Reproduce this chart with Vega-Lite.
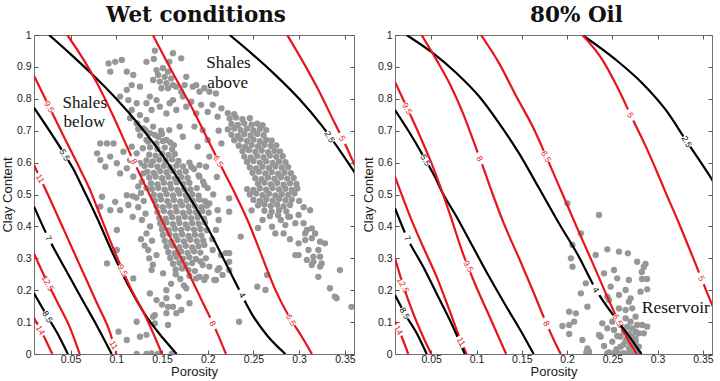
{
"$schema":"https://vega.github.io/schema/vega-lite/v6.json",
"padding":{"left":0,"top":4,"right":0,"bottom":0},
"spacing":5,
"config":{"view":{"stroke":"#707070","strokeWidth":1},
"axis":{"labelFont":"Liberation Sans","labelFontSize":10.5,"labelColor":"#1a1a1a","titleFont":"Liberation Sans","titleFontSize":13,"titleFontWeight":"normal","titleColor":"#1a1a1a","grid":false,"domain":false,"tickColor":"#555","tickSize":-4}},
"datasets":{
"wetLines":[
{"id":"b55","col":"black","p":0.010,"c":0.772},{"id":"b55","col":"black","p":0.0427,"c":0.629},{"id":"b55","col":"black","p":0.0536,"c":0.577},{"id":"b55","col":"black","p":0.0627,"c":0.524},{"id":"b55","col":"black","p":0.0789,"c":0.427},{"id":"b55","col":"black","p":0.0969,"c":0.311},{"id":"b55","col":"black","p":0.115,"c":0.205},{"id":"b55","col":"black","p":0.133,"c":0.117},{"id":"b55","col":"black","p":0.151,"c":0.05},{"id":"b55","col":"black","p":0.166,"c":0.0},
{"id":"b4","col":"black","p":0.0265,"c":1.0},{"id":"b4","col":"black","p":0.05,"c":0.94},{"id":"b4","col":"black","p":0.075,"c":0.873},{"id":"b4","col":"black","p":0.10,"c":0.80},{"id":"b4","col":"black","p":0.125,"c":0.718},{"id":"b4","col":"black","p":0.15,"c":0.625},{"id":"b4","col":"black","p":0.175,"c":0.515},{"id":"b4","col":"black","p":0.20,"c":0.395},{"id":"b4","col":"black","p":0.225,"c":0.255},{"id":"b4","col":"black","p":0.25,"c":0.117},{"id":"b4","col":"black","p":0.265,"c":0.058},{"id":"b4","col":"black","p":0.285,"c":0.0},
{"id":"b25","col":"black","p":0.224,"c":1.0},{"id":"b25","col":"black","p":0.25,"c":0.937},{"id":"b25","col":"black","p":0.275,"c":0.872},{"id":"b25","col":"black","p":0.30,"c":0.80},{"id":"b25","col":"black","p":0.325,"c":0.715},{"id":"b25","col":"black","p":0.35,"c":0.615},{"id":"b25","col":"black","p":0.365,"c":0.55},
{"id":"b7","col":"black","p":0.01,"c":0.462},{"id":"b7","col":"black","p":0.0247,"c":0.37},{"id":"b7","col":"black","p":0.0427,"c":0.274},{"id":"b7","col":"black","p":0.0608,"c":0.18},{"id":"b7","col":"black","p":0.0789,"c":0.088},{"id":"b7","col":"black","p":0.095,"c":0.0},
{"id":"b85","col":"black","p":0.01,"c":0.19},{"id":"b85","col":"black","p":0.0247,"c":0.117},{"id":"b85","col":"black","p":0.0356,"c":0.065},{"id":"b85","col":"black","p":0.047,"c":0.0},
{"id":"r14","col":"red","p":0.01,"c":0.113},{"id":"r14","col":"red","p":0.021,"c":0.054},{"id":"r14","col":"red","p":0.03,"c":0.0},
{"id":"r125","col":"red","p":0.01,"c":0.315},{"id":"r125","col":"red","p":0.022,"c":0.24},{"id":"r125","col":"red","p":0.036,"c":0.16},{"id":"r125","col":"red","p":0.049,"c":0.085},{"id":"r125","col":"red","p":0.06,"c":0.0},
{"id":"r11","col":"red","p":0.01,"c":0.592},{"id":"r11","col":"red","p":0.0229,"c":0.514},{"id":"r11","col":"red","p":0.0427,"c":0.389},{"id":"r11","col":"red","p":0.0608,"c":0.274},{"id":"r11","col":"red","p":0.0789,"c":0.159},{"id":"r11","col":"red","p":0.0934,"c":0.065},{"id":"r11","col":"red","p":0.1,"c":0.0},
{"id":"r95","col":"red","p":0.01,"c":0.872},{"id":"r95","col":"red","p":0.0247,"c":0.786},{"id":"r95","col":"red","p":0.0427,"c":0.681},{"id":"r95","col":"red","p":0.0608,"c":0.577},{"id":"r95","col":"red","p":0.072,"c":0.51},{"id":"r95","col":"red","p":0.0789,"c":0.46},{"id":"r95","col":"red","p":0.0969,"c":0.33},{"id":"r95","col":"red","p":0.115,"c":0.211},{"id":"r95","col":"red","p":0.133,"c":0.112},{"id":"r95","col":"red","p":0.15,"c":0.0},
{"id":"r8","col":"red","p":0.0464,"c":1.0},{"id":"r8","col":"red","p":0.0644,"c":0.922},{"id":"r8","col":"red","p":0.079,"c":0.849},{"id":"r8","col":"red","p":0.097,"c":0.744},{"id":"r8","col":"red","p":0.115,"c":0.629},{"id":"r8","col":"red","p":0.1355,"c":0.505},{"id":"r8","col":"red","p":0.155,"c":0.389},{"id":"r8","col":"red","p":0.176,"c":0.272},{"id":"r8","col":"red","p":0.195,"c":0.159},{"id":"r8","col":"red","p":0.209,"c":0.075},{"id":"r8","col":"red","p":0.22,"c":0.0},
{"id":"r65","col":"red","p":0.14,"c":1.0},{"id":"r65","col":"red","p":0.162,"c":0.88},{"id":"r65","col":"red","p":0.184,"c":0.765},{"id":"r65","col":"red","p":0.203,"c":0.655},{"id":"r65","col":"red","p":0.218,"c":0.57},{"id":"r65","col":"red","p":0.232,"c":0.49},{"id":"r65","col":"red","p":0.245,"c":0.41},{"id":"r65","col":"red","p":0.258,"c":0.316},{"id":"r65","col":"red","p":0.274,"c":0.201},{"id":"r65","col":"red","p":0.289,"c":0.117},{"id":"r65","col":"red","p":0.303,"c":0.054},{"id":"r65","col":"red","p":0.314,"c":0.0},
{"id":"r5","col":"red","p":0.287,"c":1.0},{"id":"r5","col":"red","p":0.303,"c":0.922},{"id":"r5","col":"red","p":0.321,"c":0.828},{"id":"r5","col":"red","p":0.339,"c":0.723},{"id":"r5","col":"red","p":0.35,"c":0.66},{"id":"r5","col":"red","p":0.359,"c":0.603},{"id":"r5","col":"red","p":0.37,"c":0.53}
],
"oilLines":[
{"id":"b25","col":"black","p":0.217,"c":1.0},{"id":"b25","col":"black","p":0.254,"c":0.922},{"id":"b25","col":"black","p":0.283,"c":0.849},{"id":"b25","col":"black","p":0.309,"c":0.765},{"id":"b25","col":"black","p":0.331,"c":0.671},{"id":"b25","col":"black","p":0.358,"c":0.556},{"id":"b25","col":"black","p":0.37,"c":0.5},
{"id":"r5","col":"red","p":0.217,"c":1.0},{"id":"r5","col":"red","p":0.239,"c":0.922},{"id":"r5","col":"red","p":0.257,"c":0.828},{"id":"r5","col":"red","p":0.271,"c":0.744},{"id":"r5","col":"red","p":0.287,"c":0.65},{"id":"r5","col":"red","p":0.3,"c":0.566},{"id":"r5","col":"red","p":0.309,"c":0.505},{"id":"r5","col":"red","p":0.3235,"c":0.41},{"id":"r5","col":"red","p":0.3386,"c":0.305},{"id":"r5","col":"red","p":0.358,"c":0.169},{"id":"r5","col":"red","p":0.37,"c":0.09},
{"id":"r65","col":"red","p":0.105,"c":1.0},{"id":"r65","col":"red","p":0.125,"c":0.911},{"id":"r65","col":"red","p":0.144,"c":0.807},{"id":"r65","col":"red","p":0.162,"c":0.713},{"id":"r65","col":"red","p":0.177,"c":0.619},{"id":"r65","col":"red","p":0.186,"c":0.56},{"id":"r65","col":"red","p":0.193,"c":0.514},{"id":"r65","col":"red","p":0.212,"c":0.389},{"id":"r65","col":"red","p":0.23,"c":0.274},{"id":"r65","col":"red","p":0.246,"c":0.169},{"id":"r65","col":"red","p":0.256,"c":0.107},{"id":"r65","col":"red","p":0.264,"c":0.062},{"id":"r65","col":"red","p":0.277,"c":0.0},
{"id":"b4","col":"black","p":0.0228,"c":1.0},{"id":"b4","col":"black","p":0.052,"c":0.943},{"id":"b4","col":"black","p":0.078,"c":0.88},{"id":"b4","col":"black","p":0.103,"c":0.807},{"id":"b4","col":"black","p":0.125,"c":0.723},{"id":"b4","col":"black","p":0.147,"c":0.629},{"id":"b4","col":"black","p":0.168,"c":0.525},{"id":"b4","col":"black","p":0.191,"c":0.41},{"id":"b4","col":"black","p":0.213,"c":0.305},{"id":"b4","col":"black","p":0.232,"c":0.201},{"id":"b4","col":"black","p":0.254,"c":0.11},{"id":"b4","col":"black","p":0.27,"c":0.05},{"id":"b4","col":"black","p":0.282,"c":0.0},
{"id":"r8","col":"red","p":0.0393,"c":1.0},{"id":"r8","col":"red","p":0.0558,"c":0.922},{"id":"r8","col":"red","p":0.0704,"c":0.847},{"id":"r8","col":"red","p":0.085,"c":0.755},{"id":"r8","col":"red","p":0.097,"c":0.665},{"id":"r8","col":"red","p":0.108,"c":0.58},{"id":"r8","col":"red","p":0.118,"c":0.5},{"id":"r8","col":"red","p":0.13,"c":0.41},{"id":"r8","col":"red","p":0.147,"c":0.3},{"id":"r8","col":"red","p":0.162,"c":0.2},{"id":"r8","col":"red","p":0.175,"c":0.11},{"id":"r8","col":"red","p":0.186,"c":0.04},{"id":"r8","col":"red","p":0.193,"c":0.0},
{"id":"b55","col":"black","p":0.01,"c":0.765},{"id":"b55","col":"black","p":0.0265,"c":0.692},{"id":"b55","col":"black","p":0.041,"c":0.622},{"id":"b55","col":"black","p":0.055,"c":0.55},{"id":"b55","col":"black","p":0.0613,"c":0.512},{"id":"b55","col":"black","p":0.078,"c":0.43},{"id":"b55","col":"black","p":0.096,"c":0.336},{"id":"b55","col":"black","p":0.114,"c":0.242},{"id":"b55","col":"black","p":0.133,"c":0.148},{"id":"b55","col":"black","p":0.151,"c":0.062},{"id":"b55","col":"black","p":0.163,"c":0.0},
{"id":"r95","col":"red","p":0.01,"c":0.853},{"id":"r95","col":"red","p":0.0228,"c":0.775},{"id":"r95","col":"red","p":0.038,"c":0.68},{"id":"r95","col":"red","p":0.05,"c":0.6},{"id":"r95","col":"red","p":0.06,"c":0.525},{"id":"r95","col":"red","p":0.0704,"c":0.44},{"id":"r95","col":"red","p":0.085,"c":0.315},{"id":"r95","col":"red","p":0.0998,"c":0.21},{"id":"r95","col":"red","p":0.114,"c":0.12},{"id":"r95","col":"red","p":0.1327,"c":0.0},
{"id":"r11","col":"red","p":0.01,"c":0.556},{"id":"r11","col":"red","p":0.0155,"c":0.514},{"id":"r11","col":"red","p":0.0265,"c":0.432},{"id":"r11","col":"red","p":0.041,"c":0.336},{"id":"r11","col":"red","p":0.056,"c":0.242},{"id":"r11","col":"red","p":0.07,"c":0.138},{"id":"r11","col":"red","p":0.081,"c":0.054},{"id":"r11","col":"red","p":0.089,"c":0.0},
{"id":"r125","col":"red","p":0.01,"c":0.3},{"id":"r125","col":"red","p":0.019,"c":0.215},{"id":"r125","col":"red","p":0.03,"c":0.128},{"id":"r125","col":"red","p":0.041,"c":0.054},{"id":"r125","col":"red","p":0.05,"c":0.0},
{"id":"b7","col":"black","p":0.01,"c":0.457},{"id":"b7","col":"black","p":0.0228,"c":0.368},{"id":"b7","col":"black","p":0.041,"c":0.274},{"id":"b7","col":"black","p":0.0595,"c":0.169},{"id":"b7","col":"black","p":0.074,"c":0.0856},{"id":"b7","col":"black","p":0.087,"c":0.0},
{"id":"b85","col":"black","p":0.01,"c":0.185},{"id":"b85","col":"black","p":0.0228,"c":0.117},{"id":"b85","col":"black","p":0.034,"c":0.065},{"id":"b85","col":"black","p":0.045,"c":0.0},
{"id":"r14","col":"red","p":0.01,"c":0.101},{"id":"r14","col":"red","p":0.0174,"c":0.054},{"id":"r14","col":"red","p":0.0246,"c":0.0}
],
"wetLab":[
{"t":"9.5","col":"red","p":0.0266,"c":0.775},{"t":"9.5","col":"red","p":0.1071,"c":0.263},{"t":"5.5","col":"black","p":0.0437,"c":0.624},{"t":"11","col":"red","p":0.0169,"c":0.55},{"t":"11","col":"red","p":0.0972,"c":0.028},{"t":"7","col":"black","p":0.026,"c":0.363},{"t":"12.5","col":"red","p":0.0252,"c":0.222},{"t":"8.5","col":"black","p":0.0247,"c":0.117},{"t":"14","col":"red","p":0.0171,"c":0.075},{"t":"8","col":"red","p":0.1193,"c":0.603},{"t":"8","col":"red","p":0.2055,"c":0.096},{"t":"6.5","col":"red","p":0.2118,"c":0.605},{"t":"6.5","col":"red","p":0.2912,"c":0.107},{"t":"4","col":"black","p":0.2377,"c":0.185},{"t":"2.5","col":"black","p":0.3335,"c":0.681},{"t":"5","col":"red","p":0.3472,"c":0.676}
],
"oilLab":[
{"t":"9.5","col":"red","p":0.0235,"c":0.77},{"t":"9.5","col":"red","p":0.0912,"c":0.275},{"t":"5.5","col":"black","p":0.0437,"c":0.608},{"t":"8","col":"red","p":0.1037,"c":0.613},{"t":"8","col":"red","p":0.1772,"c":0.096},{"t":"6.5","col":"red","p":0.177,"c":0.619},{"t":"6.5","col":"red","p":0.256,"c":0.107},{"t":"5","col":"red","p":0.27,"c":0.749},{"t":"5","col":"red","p":0.3483,"c":0.237},{"t":"2.5","col":"black","p":0.3322,"c":0.666},{"t":"4","col":"black","p":0.232,"c":0.201},{"t":"11","col":"red","p":0.0832,"c":0.039},{"t":"7","col":"black","p":0.0238,"c":0.363},{"t":"12.5","col":"red","p":0.019,"c":0.216},{"t":"8.5","col":"black","p":0.0207,"c":0.128},{"t":"14","col":"red","p":0.0141,"c":0.075}
],
"wetNote":[{"t":"Shales","p":0.1985,"c":0.8956},{"t":"above","p":0.1996,"c":0.833},{"t":"Shales","p":0.0413,"c":0.77},{"t":"below","p":0.0424,"c":0.7125}],
"oilNote":[{"t":"Reservoir","p":0.2825,"c":0.1275}],
"wetPts":[
{"p":0.1422,"c":0.951},{"p":0.141,"c":0.925},{"p":0.162,"c":0.943},{"p":0.171,"c":0.927},{"p":0.158,"c":0.916},{"p":0.0915,"c":0.911},{"p":0.0988,"c":0.916},{"p":0.106,"c":0.922},{"p":0.133,"c":0.916},{"p":0.0934,"c":0.885},{"p":0.1115,"c":0.885},{"p":0.1186,"c":0.875},{"p":0.1169,"c":0.843},{"p":0.1259,"c":0.838},
{"p":0.144,"c":0.89},{"p":0.151,"c":0.896},{"p":0.1566,"c":0.885},{"p":0.1457,"c":0.875},{"p":0.153,"c":0.869},{"p":0.16,"c":0.864},{"p":0.1476,"c":0.854},{"p":0.1548,"c":0.849},{"p":0.162,"c":0.843},{"p":0.1494,"c":0.833},{"p":0.1566,"c":0.833},{"p":0.1657,"c":0.838},{"p":0.1403,"c":0.859},{"p":0.171,"c":0.822},{"p":0.1765,"c":0.869},{"p":0.1747,"c":0.843},{"p":0.1837,"c":0.838},{"p":0.191,"c":0.822},{"p":0.1728,"c":0.807},{"p":0.162,"c":0.796},{"p":0.1765,"c":0.775},{"p":0.1657,"c":0.765},{"p":0.1584,"c":0.786},{"p":0.1367,"c":0.807},{"p":0.144,"c":0.796},{"p":0.133,"c":0.786},{"p":0.1476,"c":0.775},{"p":0.1386,"c":0.765},{"p":0.1548,"c":0.754},{"p":0.1115,"c":0.828},{"p":0.1042,"c":0.807},{"p":0.1132,"c":0.796},{"p":0.1223,"c":0.786},{"p":0.1169,"c":0.765},{"p":0.1259,"c":0.749},{"p":0.115,"c":0.739},{"p":0.1223,"c":0.723},{"p":0.133,"c":0.734},{"p":0.1295,"c":0.707},{"p":0.1403,"c":0.713},{"p":0.1367,"c":0.692},{"p":0.1457,"c":0.681},{"p":0.133,"c":0.671},{"p":0.144,"c":0.66},{"p":0.1548,"c":0.671},
{"p":0.0825,"c":0.66},{"p":0.0898,"c":0.66},{"p":0.097,"c":0.66},{"p":0.079,"c":0.629},{"p":0.0934,"c":0.619},{"p":0.0825,"c":0.608},{"p":0.088,"c":0.587},{"p":0.1006,"c":0.598},{"p":0.1115,"c":0.582},{"p":0.1042,"c":0.566},{"p":0.115,"c":0.608},{"p":0.1078,"c":0.634},{"p":0.1169,"c":0.65},{"p":0.1223,"c":0.629},{"p":0.1259,"c":0.598},{"p":0.1186,"c":0.556},{"p":0.1295,"c":0.566},{"p":0.1693,"c":0.713},{"p":0.1728,"c":0.681},{"p":0.189,"c":0.65},{"p":0.191,"c":0.592},
{"p":0.129,"c":0.645},{"p":0.137,"c":0.648},{"p":0.145,"c":0.643},{"p":0.153,"c":0.647},{"p":0.161,"c":0.642},{"p":0.135,"c":0.665},{"p":0.151,"c":0.668},{"p":0.159,"c":0.663},{"p":0.126,"c":0.685},{"p":0.142,"c":0.687},{"p":0.15,"c":0.69},{"p":0.124,"c":0.705},{"p":0.132,"c":0.702},{"p":0.149,"c":0.7},{"p":0.123,"c":0.722},{"p":0.158,"c":0.702},{"p":0.163,"c":0.655},
{"p":0.136,"c":0.625},{"p":0.143,"c":0.622},{"p":0.15,"c":0.628},{"p":0.157,"c":0.624},{"p":0.164,"c":0.627},
{"p":0.133,"c":0.607},{"p":0.14,"c":0.604},{"p":0.147,"c":0.609},{"p":0.154,"c":0.606},{"p":0.161,"c":0.61},{"p":0.168,"c":0.605},
{"p":0.131,"c":0.589},{"p":0.138,"c":0.592},{"p":0.145,"c":0.587},{"p":0.152,"c":0.59},{"p":0.159,"c":0.586},{"p":0.166,"c":0.591},{"p":0.173,"c":0.588},
{"p":0.134,"c":0.571},{"p":0.141,"c":0.568},{"p":0.148,"c":0.573},{"p":0.155,"c":0.57},{"p":0.162,"c":0.574},{"p":0.169,"c":0.569},{"p":0.176,"c":0.572},
{"p":0.136,"c":0.553},{"p":0.143,"c":0.556},{"p":0.15,"c":0.551},{"p":0.157,"c":0.555},{"p":0.164,"c":0.55},{"p":0.171,"c":0.554},{"p":0.178,"c":0.552},
{"p":0.138,"c":0.535},{"p":0.145,"c":0.532},{"p":0.152,"c":0.537},{"p":0.159,"c":0.533},{"p":0.166,"c":0.538},{"p":0.173,"c":0.534},{"p":0.18,"c":0.536},
{"p":0.139,"c":0.517},{"p":0.146,"c":0.52},{"p":0.153,"c":0.515},{"p":0.16,"c":0.519},{"p":0.167,"c":0.514},{"p":0.174,"c":0.518},{"p":0.181,"c":0.516},{"p":0.188,"c":0.52},
{"p":0.141,"c":0.499},{"p":0.148,"c":0.496},{"p":0.155,"c":0.501},{"p":0.162,"c":0.497},{"p":0.169,"c":0.502},{"p":0.176,"c":0.498},{"p":0.183,"c":0.5},{"p":0.19,"c":0.496},
{"p":0.142,"c":0.481},{"p":0.149,"c":0.484},{"p":0.156,"c":0.479},{"p":0.163,"c":0.483},{"p":0.17,"c":0.478},{"p":0.177,"c":0.482},{"p":0.184,"c":0.48},{"p":0.191,"c":0.484},{"p":0.197,"c":0.479},
{"p":0.144,"c":0.463},{"p":0.151,"c":0.46},{"p":0.158,"c":0.465},{"p":0.165,"c":0.461},{"p":0.172,"c":0.466},{"p":0.179,"c":0.462},{"p":0.186,"c":0.464},{"p":0.193,"c":0.46},{"p":0.199,"c":0.465},
{"p":0.145,"c":0.445},{"p":0.152,"c":0.448},{"p":0.159,"c":0.443},{"p":0.166,"c":0.447},{"p":0.173,"c":0.442},{"p":0.18,"c":0.446},{"p":0.187,"c":0.444},{"p":0.194,"c":0.448},{"p":0.201,"c":0.443},
{"p":0.147,"c":0.427},{"p":0.154,"c":0.424},{"p":0.161,"c":0.429},{"p":0.168,"c":0.425},{"p":0.175,"c":0.43},{"p":0.182,"c":0.426},{"p":0.189,"c":0.428},{"p":0.196,"c":0.424},
{"p":0.148,"c":0.409},{"p":0.155,"c":0.412},{"p":0.162,"c":0.407},{"p":0.169,"c":0.411},{"p":0.176,"c":0.406},{"p":0.183,"c":0.41},{"p":0.19,"c":0.408},{"p":0.197,"c":0.412},
{"p":0.15,"c":0.391},{"p":0.157,"c":0.388},{"p":0.164,"c":0.393},{"p":0.171,"c":0.389},{"p":0.178,"c":0.394},{"p":0.185,"c":0.39},{"p":0.192,"c":0.392},{"p":0.199,"c":0.388},
{"p":0.151,"c":0.373},{"p":0.158,"c":0.376},{"p":0.165,"c":0.371},{"p":0.172,"c":0.375},{"p":0.179,"c":0.37},{"p":0.186,"c":0.374},{"p":0.193,"c":0.372},
{"p":0.153,"c":0.355},{"p":0.16,"c":0.352},{"p":0.167,"c":0.357},{"p":0.174,"c":0.353},{"p":0.181,"c":0.358},{"p":0.188,"c":0.354},{"p":0.195,"c":0.356},
{"p":0.155,"c":0.337},{"p":0.162,"c":0.34},{"p":0.169,"c":0.335},{"p":0.176,"c":0.339},{"p":0.183,"c":0.334},{"p":0.19,"c":0.338},
{"p":0.157,"c":0.319},{"p":0.164,"c":0.316},{"p":0.171,"c":0.321},{"p":0.178,"c":0.317},{"p":0.185,"c":0.322},{"p":0.192,"c":0.318},
{"p":0.159,"c":0.301},{"p":0.166,"c":0.304},{"p":0.173,"c":0.299},{"p":0.18,"c":0.303},{"p":0.187,"c":0.298},
{"p":0.162,"c":0.283},{"p":0.169,"c":0.286},{"p":0.176,"c":0.281},{"p":0.183,"c":0.285},
{"p":0.165,"c":0.265},{"p":0.172,"c":0.268},{"p":0.179,"c":0.263},
{"p":0.0825,"c":0.462},{"p":0.0844,"c":0.493},{"p":0.1115,"c":0.498},{"p":0.1132,"c":0.467},{"p":0.1042,"c":0.451},{"p":0.0934,"c":0.451},{"p":0.0988,"c":0.477},{"p":0.1006,"c":0.389},{"p":0.1006,"c":0.326},{"p":0.0898,"c":0.284},{"p":0.133,"c":0.378},{"p":0.1349,"c":0.326},{"p":0.144,"c":0.31},{"p":0.1186,"c":0.237},{"p":0.1386,"c":0.263},{"p":0.1512,"c":0.253},{"p":0.128,"c":0.42},{"p":0.132,"c":0.44},{"p":0.127,"c":0.36},{"p":0.131,"c":0.34},{"p":0.136,"c":0.3},{"p":0.14,"c":0.28},{"p":0.124,"c":0.46},{"p":0.13,"c":0.48},{"p":0.118,"c":0.43},{"p":0.122,"c":0.49},{"p":0.127,"c":0.505},{"p":0.133,"c":0.52},{"p":0.128,"c":0.54},{"p":0.124,"c":0.525},{"p":0.137,"c":0.4},{"p":0.139,"c":0.355},{"p":0.118,"c":0.495},
{"p":0.1548,"c":0.2},{"p":0.1548,"c":0.175},{"p":0.144,"c":0.169},{"p":0.1421,"c":0.122},{"p":0.1548,"c":0.128},{"p":0.1421,"c":0.096},{"p":0.1024,"c":0.07},{"p":0.1115,"c":0.044},{"p":0.133,"c":0.06},{"p":0.1566,"c":0.148},{"p":0.1367,"c":0.19},{"p":0.162,"c":0.148},{"p":0.1801,"c":0.159},{"p":0.1711,"c":0.138},{"p":0.1566,"c":0.091},{"p":0.1403,"c":0.117},{"p":0.1657,"c":0.128},{"p":0.1765,"c":0.206},{"p":0.1223,"c":0.101},{"p":0.1259,"c":0.054},{"p":0.1223,"c":0.0},{"p":0.133,"c":0.0},{"p":0.1386,"c":0.002},{"p":0.1457,"c":0.0},{"p":0.1606,"c":0.0},{"p":0.16,"c":0.22},{"p":0.17,"c":0.235},{"p":0.18,"c":0.245},{"p":0.165,"c":0.25},{"p":0.186,"c":0.26},{"p":0.174,"c":0.215},{"p":0.168,"c":0.18},{"p":0.15,"c":0.155},
{"p":0.191,"c":0.242},{"p":0.1982,"c":0.242},{"p":0.209,"c":0.232},{"p":0.2235,"c":0.316},{"p":0.2126,"c":0.269},{"p":0.2235,"c":0.263},{"p":0.2018,"c":0.472},{"p":0.2108,"c":0.451},{"p":0.209,"c":0.389},{"p":0.1963,"c":0.342},{"p":0.2054,"c":0.326},{"p":0.2145,"c":0.31},{"p":0.2199,"c":0.316},{"p":0.2235,"c":0.289},{"p":0.1945,"c":0.279},{"p":0.2018,"c":0.274},{"p":0.2108,"c":0.263},{"p":0.1874,"c":0.237},{"p":0.1963,"c":0.232},{"p":0.2072,"c":0.232},{"p":0.2162,"c":0.248},{"p":0.2235,"c":0.488},{"p":0.2235,"c":0.446},{"p":0.206,"c":0.5},{"p":0.212,"c":0.42},{"p":0.205,"c":0.36},{"p":0.198,"c":0.3},{"p":0.192,"c":0.29},{"p":0.2,"c":0.52},{"p":0.195,"c":0.54},{"p":0.19,"c":0.56},{"p":0.185,"c":0.58},{"p":0.18,"c":0.6},
{"p":0.2361,"c":0.368},{"p":0.2343,"c":0.101},{"p":0.2542,"c":0.211},{"p":0.2632,"c":0.201},{"p":0.265,"c":0.248},
{"p":0.1874,"c":0.843},{"p":0.1963,"c":0.833},{"p":0.2018,"c":0.822},{"p":0.209,"c":0.817},{"p":0.182,"c":0.791},{"p":0.1928,"c":0.781},{"p":0.2054,"c":0.781},{"p":0.2,"c":0.759},{"p":0.1874,"c":0.754},{"p":0.2108,"c":0.744},{"p":0.1855,"c":0.713},{"p":0.1945,"c":0.702},{"p":0.2,"c":0.671},{"p":0.2018,"c":0.619},{"p":0.1982,"c":0.587},{"p":0.182,"c":0.587},{"p":0.191,"c":0.556},{"p":0.1963,"c":0.53},{"p":0.215,"c":0.77},{"p":0.212,"c":0.7},{"p":0.215,"c":0.66},{"p":0.21,"c":0.555},
{"p":0.222,"c":0.755},{"p":0.229,"c":0.752},
{"p":0.224,"c":0.738},{"p":0.231,"c":0.741},{"p":0.238,"c":0.736},{"p":0.246,"c":0.739},
{"p":0.226,"c":0.721},{"p":0.233,"c":0.718},{"p":0.24,"c":0.723},{"p":0.248,"c":0.719},{"p":0.254,"c":0.722},{"p":0.26,"c":0.717},
{"p":0.222,"c":0.704},{"p":0.229,"c":0.707},{"p":0.236,"c":0.702},{"p":0.243,"c":0.706},{"p":0.25,"c":0.701},{"p":0.257,"c":0.705},{"p":0.264,"c":0.702},
{"p":0.226,"c":0.687},{"p":0.233,"c":0.684},{"p":0.24,"c":0.689},{"p":0.247,"c":0.685},{"p":0.254,"c":0.69},{"p":0.261,"c":0.686},
{"p":0.229,"c":0.67},{"p":0.236,"c":0.673},{"p":0.243,"c":0.668},{"p":0.25,"c":0.672},{"p":0.257,"c":0.667},{"p":0.264,"c":0.671},{"p":0.27,"c":0.669},
{"p":0.234,"c":0.653},{"p":0.241,"c":0.65},{"p":0.248,"c":0.655},{"p":0.255,"c":0.651},{"p":0.262,"c":0.656},{"p":0.269,"c":0.652},{"p":0.275,"c":0.654},
{"p":0.238,"c":0.636},{"p":0.245,"c":0.639},{"p":0.252,"c":0.634},{"p":0.259,"c":0.638},{"p":0.266,"c":0.633},{"p":0.273,"c":0.637},{"p":0.279,"c":0.635},
{"p":0.24,"c":0.619},{"p":0.247,"c":0.616},{"p":0.254,"c":0.621},{"p":0.261,"c":0.617},{"p":0.268,"c":0.622},{"p":0.275,"c":0.618},{"p":0.282,"c":0.62},
{"p":0.243,"c":0.602},{"p":0.25,"c":0.605},{"p":0.257,"c":0.6},{"p":0.264,"c":0.604},{"p":0.271,"c":0.599},{"p":0.278,"c":0.603},{"p":0.285,"c":0.601},
{"p":0.246,"c":0.585},{"p":0.253,"c":0.582},{"p":0.26,"c":0.587},{"p":0.267,"c":0.583},{"p":0.274,"c":0.588},{"p":0.281,"c":0.584},{"p":0.288,"c":0.586},
{"p":0.249,"c":0.568},{"p":0.256,"c":0.571},{"p":0.263,"c":0.566},{"p":0.27,"c":0.57},{"p":0.277,"c":0.565},{"p":0.284,"c":0.569},{"p":0.291,"c":0.567},
{"p":0.252,"c":0.551},{"p":0.259,"c":0.548},{"p":0.266,"c":0.553},{"p":0.273,"c":0.549},{"p":0.28,"c":0.554},{"p":0.287,"c":0.55},{"p":0.294,"c":0.552},
{"p":0.255,"c":0.534},{"p":0.262,"c":0.537},{"p":0.269,"c":0.532},{"p":0.276,"c":0.536},{"p":0.283,"c":0.531},{"p":0.29,"c":0.535},{"p":0.297,"c":0.533},
{"p":0.243,"c":0.517},{"p":0.25,"c":0.514},{"p":0.257,"c":0.519},{"p":0.264,"c":0.515},{"p":0.271,"c":0.52},{"p":0.278,"c":0.516},{"p":0.285,"c":0.518},{"p":0.292,"c":0.514},{"p":0.298,"c":0.519},
{"p":0.246,"c":0.5},{"p":0.253,"c":0.503},{"p":0.26,"c":0.498},{"p":0.267,"c":0.502},{"p":0.274,"c":0.497},{"p":0.281,"c":0.501},{"p":0.288,"c":0.499},{"p":0.295,"c":0.503},
{"p":0.25,"c":0.483},{"p":0.257,"c":0.48},{"p":0.264,"c":0.485},{"p":0.271,"c":0.481},{"p":0.278,"c":0.486},{"p":0.285,"c":0.482},{"p":0.292,"c":0.484},
{"p":0.255,"c":0.466},{"p":0.262,"c":0.469},{"p":0.269,"c":0.464},{"p":0.276,"c":0.468},{"p":0.283,"c":0.463},{"p":0.29,"c":0.467},
{"p":0.262,"c":0.449},{"p":0.27,"c":0.446},{"p":0.278,"c":0.451},{"p":0.286,"c":0.447},
{"p":0.268,"c":0.432},{"p":0.277,"c":0.435},{"p":0.288,"c":0.43},
{"p":0.2704,"c":0.399},{"p":0.274,"c":0.378},{"p":0.283,"c":0.378},{"p":0.2849,"c":0.404},{"p":0.2958,"c":0.41},{"p":0.3048,"c":0.41},{"p":0.3066,"c":0.378},{"p":0.3175,"c":0.378},{"p":0.3138,"c":0.394},{"p":0.321,"c":0.326},{"p":0.2994,"c":0.436},{"p":0.312,"c":0.451},{"p":0.2958,"c":0.31},{"p":0.2994,"c":0.31},{"p":0.3102,"c":0.326},{"p":0.3084,"c":0.295},{"p":0.3156,"c":0.289},{"p":0.3229,"c":0.305},{"p":0.3246,"c":0.284},{"p":0.3138,"c":0.279},{"p":0.321,"c":0.242},{"p":0.3337,"c":0.206},{"p":0.3391,"c":0.18},{"p":0.3409,"c":0.175},{"p":0.3446,"c":0.263},{"p":0.3572,"c":0.148},{"p":0.3283,"c":0.347},{"p":0.3229,"c":0.352},{"p":0.3138,"c":0.363},{"p":0.3066,"c":0.357},{"p":0.2994,"c":0.347},{"p":0.3084,"c":0.389},{"p":0.29,"c":0.36},{"p":0.26,"c":0.42},{"p":0.255,"c":0.395},{"p":0.28,"c":0.42},{"p":0.29,"c":0.43},{"p":0.305,"c":0.46},{"p":0.3,"c":0.48},{"p":0.248,"c":0.45},{"p":0.3229,"c":0.274},{"p":0.3156,"c":0.305}
],
"oilPts":[
{"p":0.2004,"c":0.4724},{"p":0.2353,"c":0.4357},{"p":0.2152,"c":0.3784},{"p":0.2059,"c":0.3417},{"p":0.2444,"c":0.3282},{"p":0.2573,"c":0.3207},{"p":0.2671,"c":0.3157},{"p":0.2316,"c":0.3103},{"p":0.2042,"c":0.3},{"p":0.2059,"c":0.2737},{"p":0.2774,"c":0.2893},{"p":0.2866,"c":0.2821},{"p":0.2847,"c":0.2727},{"p":0.2825,"c":0.2571},{"p":0.2518,"c":0.2633},{"p":0.2408,"c":0.253},{"p":0.2827,"c":0.235},{"p":0.2882,"c":0.235},{"p":0.2554,"c":0.2373},{"p":0.2682,"c":0.232},{"p":0.2207,"c":0.2216},{"p":0.2481,"c":0.211},{"p":0.2646,"c":0.2006},{"p":0.2884,"c":0.2028},{"p":0.2152,"c":0.1903},{"p":0.2573,"c":0.185},{"p":0.2444,"c":0.1796},{"p":0.2811,"c":0.1953},{"p":0.2701,"c":0.1746},{"p":0.2682,"c":0.1639},{"p":0.2463,"c":0.1693},{"p":0.2224,"c":0.1483},{"p":0.2573,"c":0.1429},{"p":0.2646,"c":0.1379},{"p":0.2719,"c":0.1433},{"p":0.2023,"c":0.1326},{"p":0.2097,"c":0.1276},{"p":0.2756,"c":0.1169},{"p":0.2646,"c":0.1119},{"p":0.2701,"c":0.1013},{"p":0.2499,"c":0.1013},{"p":0.2078,"c":0.1013},{"p":0.1949,"c":0.0878},{"p":0.2023,"c":0.0909},{"p":0.2389,"c":0.0962},{"p":0.2591,"c":0.0909},{"p":0.2664,"c":0.0856},{"p":0.2719,"c":0.0806},{"p":0.2774,"c":0.0909},{"p":0.2829,"c":0.0909},{"p":0.2884,"c":0.0856},{"p":0.2444,"c":0.0806},{"p":0.2518,"c":0.0752},{"p":0.2627,"c":0.0699},{"p":0.2682,"c":0.0649},{"p":0.2756,"c":0.0699},{"p":0.2792,"c":0.0649},{"p":0.2847,"c":0.0649},{"p":0.2353,"c":0.0596},{"p":0.2371,"c":0.0542},{"p":0.2023,"c":0.0627},{"p":0.2554,"c":0.0564},{"p":0.2591,"c":0.0542},{"p":0.2664,"c":0.0492},{"p":0.2719,"c":0.0542},{"p":0.2756,"c":0.0492},{"p":0.2169,"c":0.0439},{"p":0.2499,"c":0.0386},{"p":0.2646,"c":0.0386},{"p":0.2701,"c":0.0335},{"p":0.2756,"c":0.0386},{"p":0.2408,"c":0.0251},{"p":0.2737,"c":0.0251},{"p":0.2591,"c":0.0229},{"p":0.2224,"c":0.0176},{"p":0.2243,"c":0.0072},{"p":0.2463,"c":0.0047},{"p":0.2518,"c":0.003},{"p":0.2573,"c":0.002},{"p":0.2627,"c":0.003},{"p":0.2682,"c":0.002},{"p":0.2719,"c":0.004},{"p":0.2756,"c":0.002},{"p":0.2792,"c":0.003},{"p":0.2792,"c":0.0229},{"p":0.2444,"c":0.002},{"p":0.2213,"c":0.005},{"p":0.2685,"c":0.018},{"p":0.2765,"c":0.012},{"p":0.2625,"c":0.03},{"p":0.2545,"c":0.015}
]
},
"hconcat":[
{"title":{"text":"Wet conditions","font":"DejaVu Serif","fontSize":21.5,"fontWeight":"bold","color":"#111","anchor":"middle","frame":"group","dx":2,"offset":4},
"width":320,"height":319,
"layer":[
{"data":{"name":"wetPts"},"mark":{"type":"circle","size":40,"color":"#979797","opacity":1,"clip":true},
"encoding":{"x":{"field":"p","type":"quantitative","scale":{"domain":[0.01,0.36],"nice":false,"zero":false},"axis":{"orient":"top","labels":false,"title":null,"values":[0.05,0.1,0.15,0.2,0.25,0.3,0.35]}},
"y":{"field":"c","type":"quantitative","scale":{"domain":[0,1],"nice":false,"zero":false},"axis":{"orient":"right","labels":false,"title":null,"values":[0,0.1,0.2,0.3,0.4,0.5,0.6,0.7,0.8,0.9,1]}}}},
{"data":{"name":"wetLines"},"mark":{"type":"line","strokeWidth":2.2,"clip":true,"interpolate":"monotone"},
"encoding":{"x":{"field":"p","type":"quantitative","axis":{"orient":"bottom","title":"Porosity","format":"~g","values":[0.05,0.1,0.15,0.2,0.25,0.3,0.35],"labelPadding":4,"titlePadding":1}},
"y":{"field":"c","type":"quantitative","axis":{"orient":"left","title":"Clay Content","format":"~g","values":[0,0.1,0.2,0.3,0.4,0.5,0.6,0.7,0.8,0.9,1],"labelPadding":7,"titlePadding":2}},
"detail":{"field":"id"},
"color":{"field":"col","type":"nominal","scale":{"domain":["black","red"],"range":["#000000","#e8141c"]},"legend":null}}},
{"data":{"name":"wetLab"},"mark":{"type":"point","shape":"M-1,-0.5H1V0.5H-1Z","filled":true,"color":"white","opacity":1,"size":150,"angle":60,"clip":true},
"encoding":{"x":{"field":"p","type":"quantitative","axis":null},"y":{"field":"c","type":"quantitative","axis":null}}},
{"data":{"name":"wetLab"},"mark":{"type":"text","fontSize":8.5,"angle":60,"font":"Liberation Sans","clip":true},
"encoding":{"x":{"field":"p","type":"quantitative","axis":null},"y":{"field":"c","type":"quantitative","axis":null},"text":{"field":"t"},"color":{"field":"col","type":"nominal","legend":null}}},
{"data":{"name":"wetNote"},"mark":{"type":"text","font":"Liberation Serif","fontSize":17,"align":"left","baseline":"alphabetic","color":"#111"},
"encoding":{"x":{"field":"p","type":"quantitative","axis":null},"y":{"field":"c","type":"quantitative","axis":null},"text":{"field":"t"}}}
],
"resolve":{"axis":{"x":"independent","y":"independent"}}
},
{"title":{"text":"80% Oil","font":"DejaVu Serif","fontSize":21.5,"fontWeight":"bold","color":"#111","anchor":"middle","frame":"group","dx":23,"offset":4},
"width":317,"height":319,
"layer":[
{"data":{"name":"oilPts"},"mark":{"type":"circle","size":40,"color":"#979797","opacity":1,"clip":true},
"encoding":{"x":{"field":"p","type":"quantitative","scale":{"domain":[0.01,0.36],"nice":false,"zero":false},"axis":{"orient":"top","labels":false,"title":null,"values":[0.05,0.1,0.15,0.2,0.25,0.3,0.35]}},
"y":{"field":"c","type":"quantitative","scale":{"domain":[0,1],"nice":false,"zero":false},"axis":{"orient":"right","labels":false,"title":null,"values":[0,0.1,0.2,0.3,0.4,0.5,0.6,0.7,0.8,0.9,1]}}}},
{"data":{"name":"oilLines"},"mark":{"type":"line","strokeWidth":2.2,"clip":true,"interpolate":"monotone"},
"encoding":{"x":{"field":"p","type":"quantitative","axis":{"orient":"bottom","title":"Porosity","format":"~g","values":[0.05,0.1,0.15,0.2,0.25,0.3,0.35],"labelPadding":4,"titlePadding":1}},
"y":{"field":"c","type":"quantitative","axis":{"orient":"left","title":"Clay Content","format":"~g","values":[0,0.1,0.2,0.3,0.4,0.5,0.6,0.7,0.8,0.9,1],"labelPadding":7,"titlePadding":2}},
"detail":{"field":"id"},
"color":{"field":"col","type":"nominal","scale":{"domain":["black","red"],"range":["#000000","#e8141c"]},"legend":null}}},
{"data":{"name":"oilLab"},"mark":{"type":"point","shape":"M-1,-0.5H1V0.5H-1Z","filled":true,"color":"white","opacity":1,"size":150,"angle":60,"clip":true},
"encoding":{"x":{"field":"p","type":"quantitative","axis":null},"y":{"field":"c","type":"quantitative","axis":null}}},
{"data":{"name":"oilLab"},"mark":{"type":"text","fontSize":8.5,"angle":60,"font":"Liberation Sans","clip":true},
"encoding":{"x":{"field":"p","type":"quantitative","axis":null},"y":{"field":"c","type":"quantitative","axis":null},"text":{"field":"t"},"color":{"field":"col","type":"nominal","legend":null}}},
{"data":{"name":"oilNote"},"mark":{"type":"text","font":"Liberation Serif","fontSize":17.5,"align":"left","baseline":"alphabetic","color":"#111"},
"encoding":{"x":{"field":"p","type":"quantitative","axis":null},"y":{"field":"c","type":"quantitative","axis":null},"text":{"field":"t"}}}
],
"resolve":{"axis":{"x":"independent","y":"independent"}}
}
]
}
